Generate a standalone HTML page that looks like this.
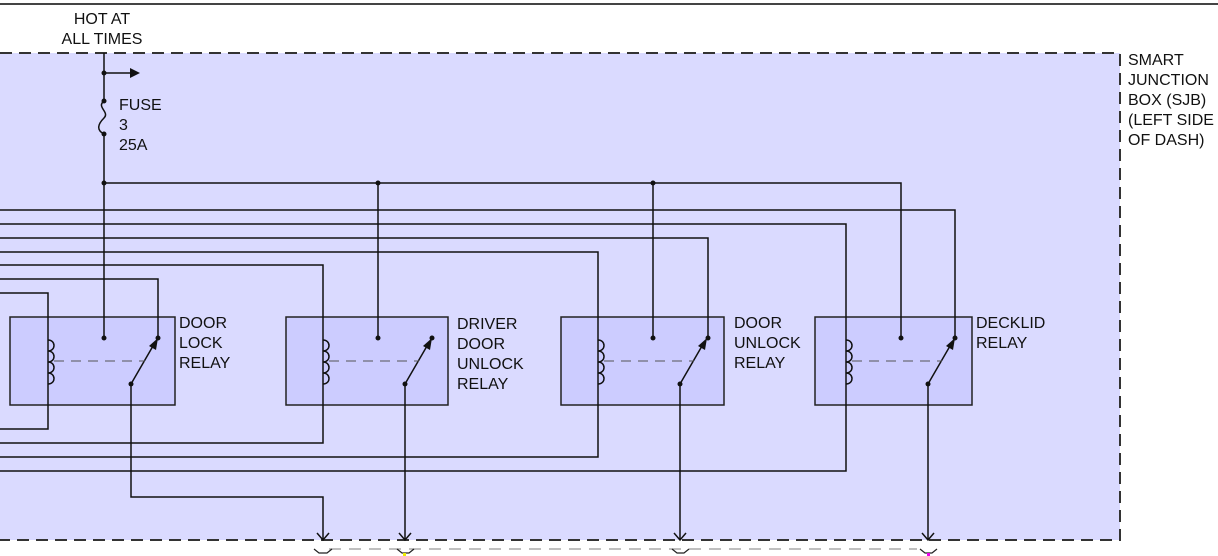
<!DOCTYPE html>
<html><head><style>
html,body{margin:0;padding:0;background:#fff;}
svg{display:block}
text{font-family:"Liberation Sans",sans-serif;font-size:16px;fill:#111;}
</style></head><body>
<svg width="1218" height="556" viewBox="0 0 1218 556" xmlns="http://www.w3.org/2000/svg">
<line x1="0" y1="4" x2="1218" y2="4" stroke="#444" stroke-width="2"/>
<rect x="0" y="53" width="1120" height="487" fill="#dadaff"/>
<path d="M0 53 H1120 V540 H0" fill="none" stroke="#333" stroke-width="2" stroke-dasharray="12,7"/>
<text x="102" y="24" text-anchor="middle">HOT AT</text>
<text x="102" y="44" text-anchor="middle">ALL TIMES</text>
<g font-size="16">
<text x="1128" y="65">SMART</text><text x="1128" y="85">JUNCTION</text><text x="1128" y="105">BOX (SJB)</text><text x="1128" y="125">(LEFT SIDE</text><text x="1128" y="145">OF DASH)</text>
<text x="119" y="110">FUSE</text><text x="119" y="130">3</text><text x="119" y="150">25A</text>
<text x="179" y="328">DOOR</text><text x="179" y="348">LOCK</text><text x="179" y="368">RELAY</text>
<text x="457" y="329">DRIVER</text><text x="457" y="349">DOOR</text><text x="457" y="369">UNLOCK</text><text x="457" y="389">RELAY</text>
<text x="734" y="328">DOOR</text><text x="734" y="348">UNLOCK</text><text x="734" y="368">RELAY</text>
<text x="976" y="328">DECKLID</text><text x="976" y="348">RELAY</text>
</g>
<!-- relay boxes -->
<g fill="#ccccff" stroke="#222" stroke-width="1.5">
<rect x="10" y="317" width="165" height="88"/>
<rect x="286" y="317" width="162" height="88"/>
<rect x="561" y="317" width="163" height="88"/>
<rect x="815" y="317" width="157" height="88"/>
</g>
<g fill="none" stroke="#111" stroke-width="1.5">
<!-- fuse line -->
<path d="M104 53 V101 M104 134 V338"/>
<path d="M104 101 C96 107,110 112,104 118 C98 124,96 130,104 134"/>
<path d="M104 73 H132"/>
<!-- bus -->
<path d="M104 183 H901 V338 M378 183 V338 M653 183 V338"/>
<!-- left harness -->
<path d="M0 210 H955 V338"/>
<path d="M0 224 H846 V471 H0"/>
<path d="M0 238 H708 V338"/>
<path d="M0 252 H598 V457 H0"/>
<path d="M0 265 H323 V443 H0"/>
<path d="M0 279 H158 V338"/>
<path d="M0 293 H48 V429 H0"/>
<!-- outputs -->
<path d="M131 384 V497 H323 V540"/>
<path d="M405 384 V540 M680 384 V540 M928 384 V540"/>
<path d="M317 533 L323 540 L329 533 M399 533 L405 540 L411 533 M674 533 L680 540 L686 533 M922 533 L928 540 L934 533"/>
<!-- switches -->
<path d="M131 384 L153 346 M405 384 L427 346 M680 384 L702 346 M928 384 L950 346"/>
</g>
<!-- coils: white-ish gap and bumps -->
<g fill="none" stroke="#111" stroke-width="1.5">
<path d="M48 340 c8 0 8 11 0 11 c8 0 8 11 0 11 c8 0 8 11 0 11 c8 0 8 11 0 11"/>
<path d="M323 340 c8 0 8 11 0 11 c8 0 8 11 0 11 c8 0 8 11 0 11 c8 0 8 11 0 11"/>
<path d="M598 340 c8 0 8 11 0 11 c8 0 8 11 0 11 c8 0 8 11 0 11 c8 0 8 11 0 11"/>
<path d="M846 340 c8 0 8 11 0 11 c8 0 8 11 0 11 c8 0 8 11 0 11 c8 0 8 11 0 11"/>
</g>
<g stroke="#555" stroke-width="1" stroke-dasharray="10,7">
<path d="M54 361 H145 M329 361 H419 M604 361 H694 M852 361 H942"/>
</g>
<!-- arrowheads -->
<g fill="#111">
<polygon points="140,73 130,68 130,78"/>
<polygon points="158,338 149,346 156,350"/>
<polygon points="432,338 423,346 430,350"/>
<polygon points="707,338 698,346 705,350"/>
<polygon points="955,338 946,346 953,350"/>
<circle cx="104" cy="73" r="2.5"/><circle cx="104" cy="101" r="2.5"/><circle cx="104" cy="134" r="2.5"/>
<circle cx="104" cy="183" r="2.5"/><circle cx="378" cy="183" r="2.5"/><circle cx="653" cy="183" r="2.5"/>
<circle cx="104" cy="338" r="2.5"/><circle cx="158" cy="338" r="2.5"/><circle cx="131" cy="384" r="2.5"/>
<circle cx="378" cy="338" r="2.5"/><circle cx="432" cy="338" r="2.5"/><circle cx="405" cy="384" r="2.5"/>
<circle cx="653" cy="338" r="2.5"/><circle cx="708" cy="338" r="2.5"/><circle cx="680" cy="384" r="2.5"/>
<circle cx="901" cy="338" r="2.5"/><circle cx="955" cy="338" r="2.5"/><circle cx="928" cy="384" r="2.5"/>
</g>
<!-- below box -->
<path d="M329 549 H917" stroke="#999" stroke-width="1.2" stroke-dasharray="12,8"/>
<g fill="none" stroke="#222" stroke-width="1.2">
<path d="M314 549 L319 553 H327 L332 549 M397 549 L402 553 H409 L414 549 M672 549 L677 553 H684 L689 549 M920 549 L925 553 H932 L937 549"/>
</g>
<rect x="403" y="553" width="3" height="3" fill="#ee0"/>
<rect x="927" y="553" width="3" height="3" fill="#e0e"/>
</svg>
</body></html>
